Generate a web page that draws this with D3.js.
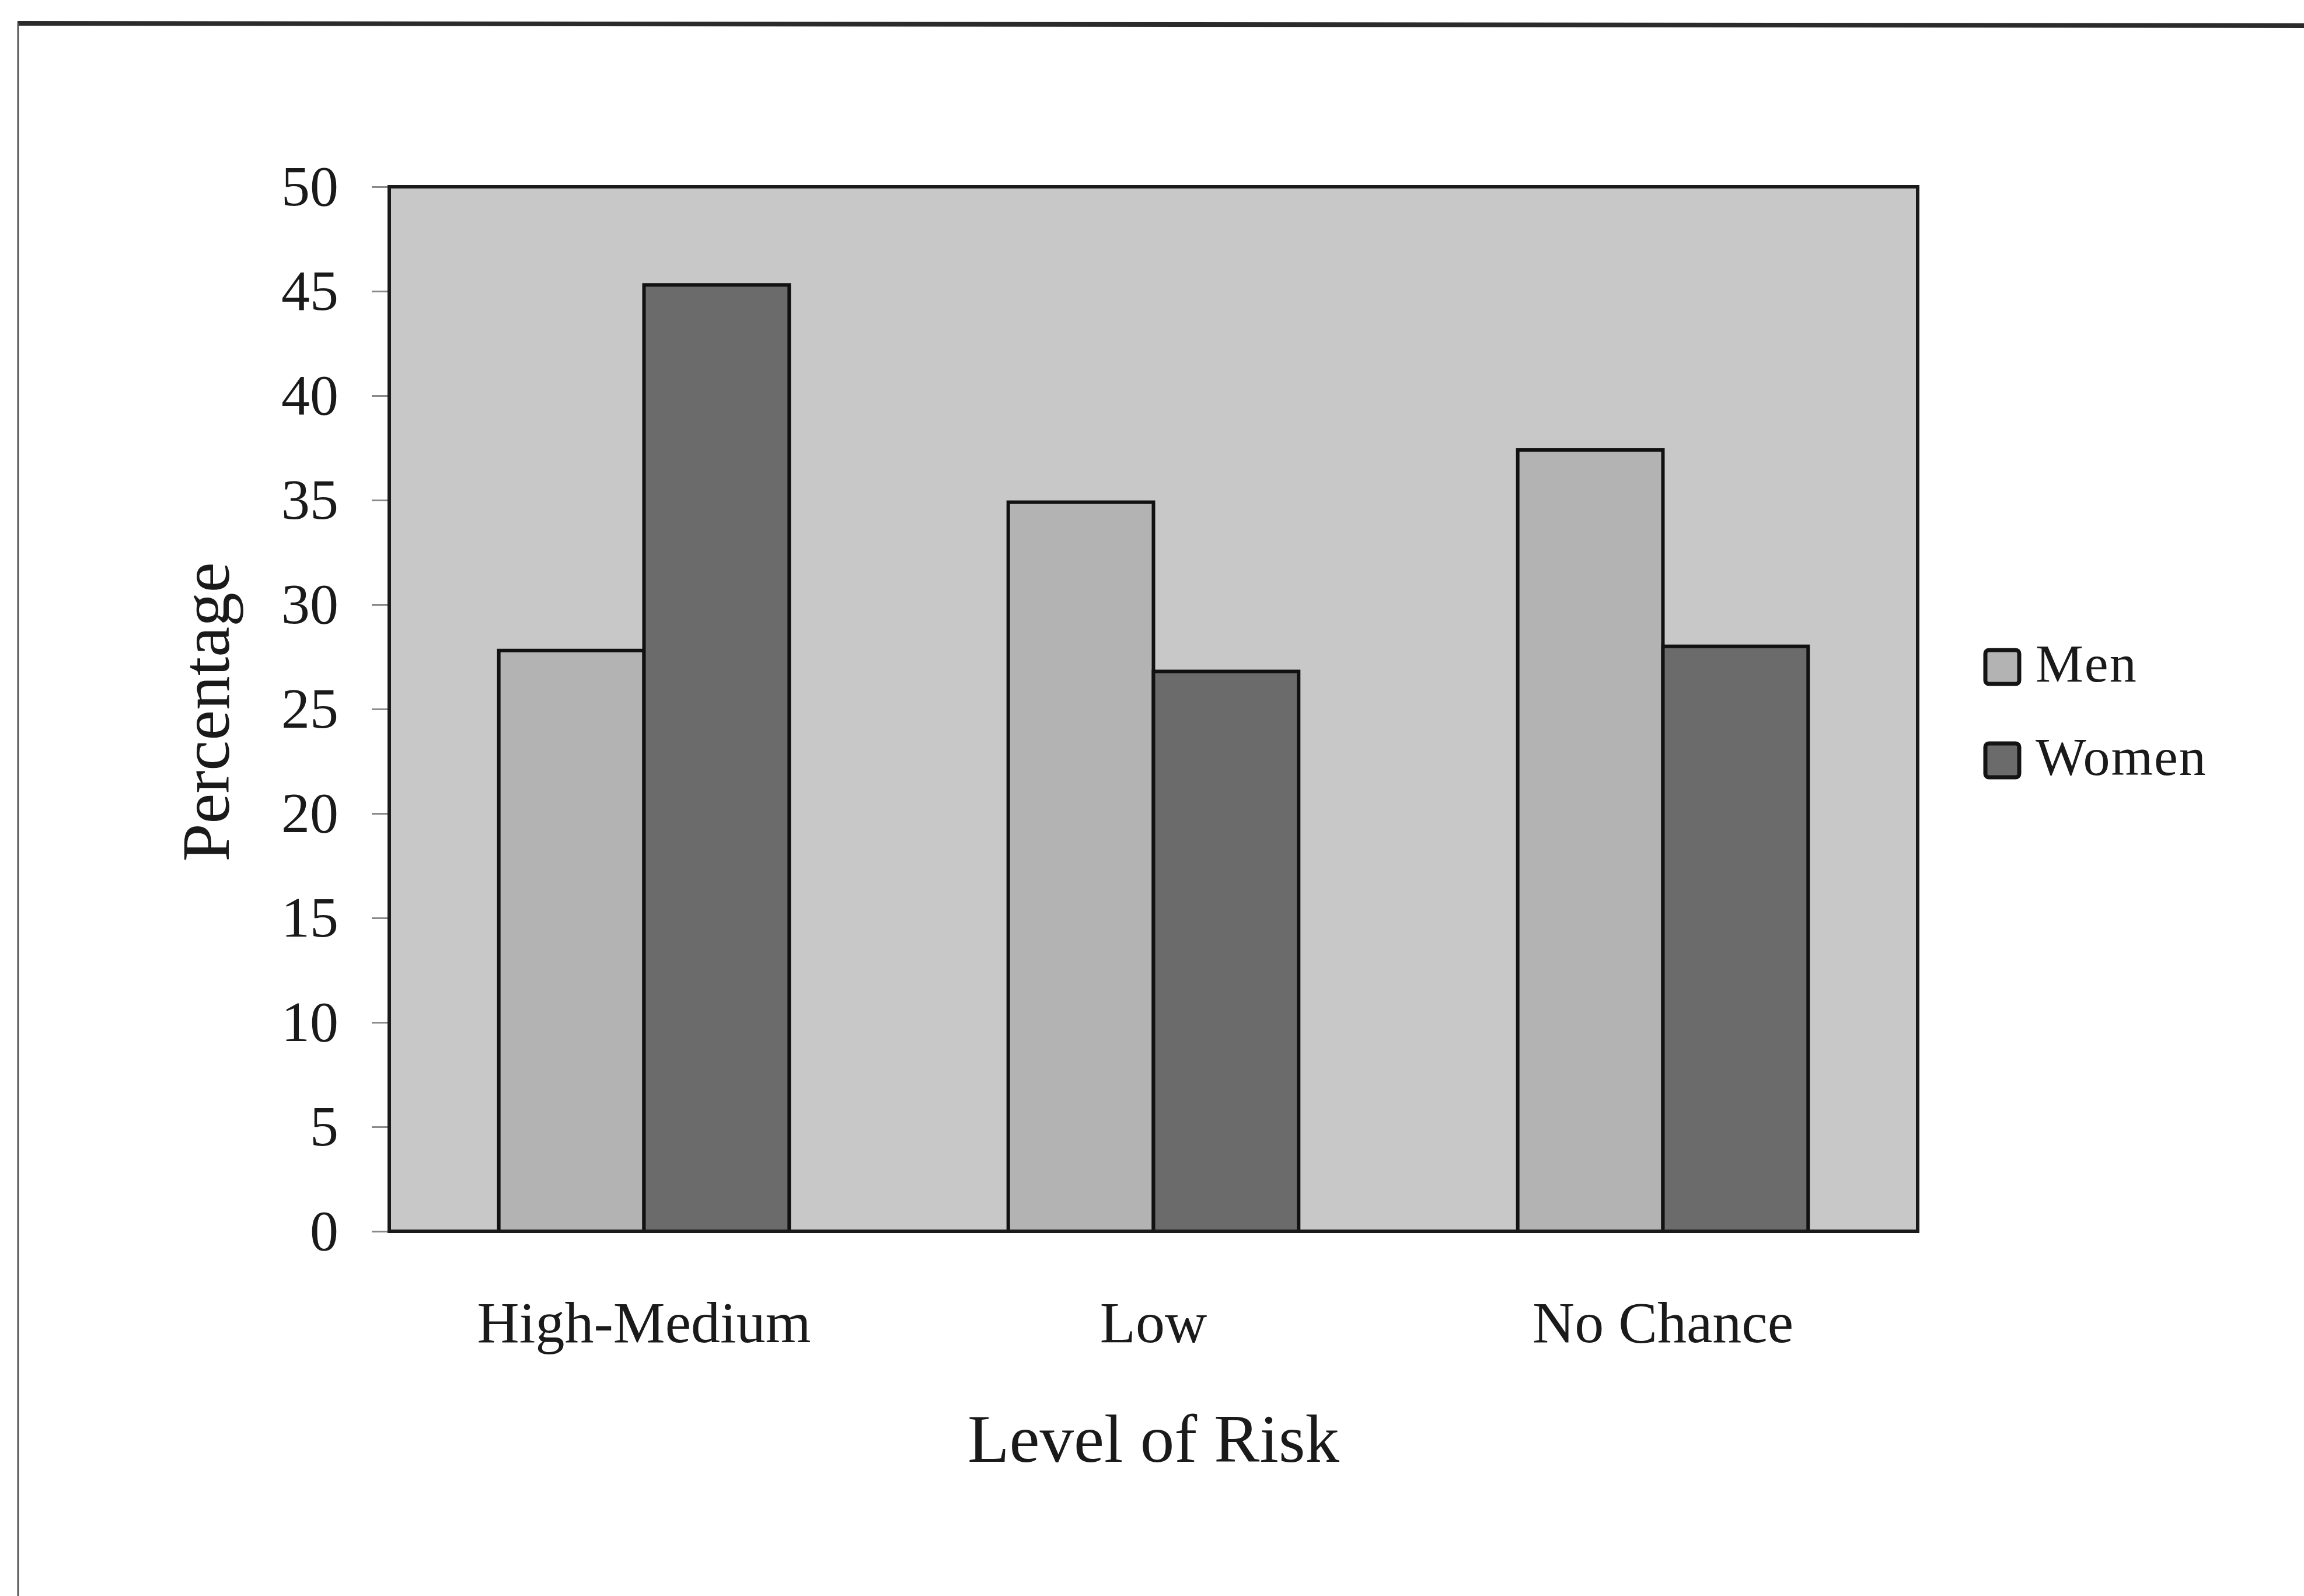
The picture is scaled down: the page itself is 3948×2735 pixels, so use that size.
<!DOCTYPE html>
<html>
<head>
<meta charset="utf-8">
<script src="https://cdn.jsdelivr.net/npm/d3@7"></script>
<style>
  html, body { margin: 0; padding: 0; background: #ffffff; }
  svg { display: block; }
  text { font-family: "Liberation Serif", "Times New Roman", serif; fill: #1a1a1a; }
</style>
</head>
<body>
<script>
// Share of respondents by perceived level of risk, split by sex
const categories = ["High-Medium", "Low", "No Chance"];
const seriesNames = ["Men", "Women"];
const menValues = [27.8, 34.9, 37.4];
const womenValues = [45.3, 26.8, 28.0];
const yTicks = [0, 5, 10, 15, 20, 25, 30, 35, 40, 45, 50];

const W = 3948, H = 2735;
const plot = { left: 667, right: 3286, top: 320, bottom: 2110 };
const colors = { Men: "#b3b3b3", Women: "#6b6b6b" };

const svg = d3.select("body").append("svg")
  .attr("width", W).attr("height", H)
  .attr("viewBox", `0 0 ${W} ${H}`);

svg.append("rect").attr("width", W).attr("height", H).attr("fill", "#ffffff");

// outer frame
svg.append("line").attr("x1", 30).attr("y1", 40).attr("x2", W).attr("y2", 44)
  .attr("stroke", "#2b2b2b").attr("stroke-width", 8);
svg.append("line").attr("x1", 31).attr("y1", 40).attr("x2", 31).attr("y2", H)
  .attr("stroke", "#555555").attr("stroke-width", 3);

const x = d3.scaleBand()
  .domain(categories)
  .range([plot.left, plot.right])
  .paddingInner(0.43)
  .paddingOuter(0.215);

const xSeries = d3.scaleBand()
  .domain(seriesNames)
  .range([0, x.bandwidth()]);

const y = d3.scaleLinear()
  .domain([0, 50])
  .range([plot.bottom, plot.top]);

// plot area background
svg.append("rect")
  .attr("x", plot.left).attr("y", plot.top)
  .attr("width", plot.right - plot.left).attr("height", plot.bottom - plot.top)
  .attr("fill", "#c8c8c8");

// y axis
const yAxis = d3.axisLeft(y).tickValues(yTicks).tickSize(30).tickPadding(57).tickFormat(d3.format("d"));
const gy = svg.append("g").attr("transform", `translate(${plot.left},0)`).call(yAxis);
gy.select(".domain").remove();
gy.selectAll(".tick line").attr("stroke", "#8a8a8a").attr("stroke-width", 3);
gy.selectAll(".tick text")
  .attr("font-size", 98)
  .attr("fill", "#1a1a1a")
  .style("font-family", "'Liberation Serif', 'Times New Roman', serif");

// bars
const rows = categories.map((c, i) => ({ category: c, Men: menValues[i], Women: womenValues[i] }));
const groups = svg.append("g").selectAll("g")
  .data(rows).join("g")
  .attr("transform", d => `translate(${x(d.category)},0)`);

groups.selectAll("rect")
  .data(d => seriesNames.map(s => ({ series: s, value: d[s] })))
  .join("rect")
  .attr("x", d => xSeries(d.series))
  .attr("y", d => y(d.value))
  .attr("width", xSeries.bandwidth())
  .attr("height", d => y(0) - y(d.value))
  .attr("fill", d => colors[d.series])
  .attr("stroke", "#111111")
  .attr("stroke-width", 6);

// plot border on top
svg.append("rect")
  .attr("x", plot.left).attr("y", plot.top)
  .attr("width", plot.right - plot.left).attr("height", plot.bottom - plot.top)
  .attr("fill", "none")
  .attr("stroke", "#1a1a1a").attr("stroke-width", 6);

// x axis labels
const xAxis = d3.axisBottom(x).tickSize(0).tickPadding(0);
const gx = svg.append("g").attr("transform", `translate(0,${plot.bottom})`).call(xAxis);
gx.select(".domain").remove();
gx.selectAll(".tick text")
  .attr("dy", null)
  .attr("y", 190)
  .attr("font-size", 100)
  .attr("fill", "#1a1a1a")
  .style("font-family", "'Liberation Serif', 'Times New Roman', serif");

// axis titles
svg.append("text")
  .attr("x", (plot.left + plot.right) / 2)
  .attr("y", 2505)
  .attr("text-anchor", "middle")
  .attr("font-size", 117)
  .text("Level of Risk");

svg.append("text")
  .attr("transform", `translate(392,${(plot.top + plot.bottom) / 2 + 5}) rotate(-90)`)
  .attr("text-anchor", "middle")
  .attr("font-size", 117)
  .text("Percentage");

// legend
const legend = svg.append("g").attr("transform", "translate(3402,1114)");
const items = legend.selectAll("g").data(seriesNames).join("g")
  .attr("transform", (d, i) => `translate(0,${i * 160})`);
items.append("rect")
  .attr("width", 58).attr("height", 58)
  .attr("rx", 6)
  .attr("fill", d => colors[d])
  .attr("stroke", "#141414").attr("stroke-width", 7);
items.append("text")
  .attr("x", 86).attr("y", 54)
  .attr("font-size", 92)
  .attr("letter-spacing", 2)
  .text(d => d);
</script>
</body>
</html>
